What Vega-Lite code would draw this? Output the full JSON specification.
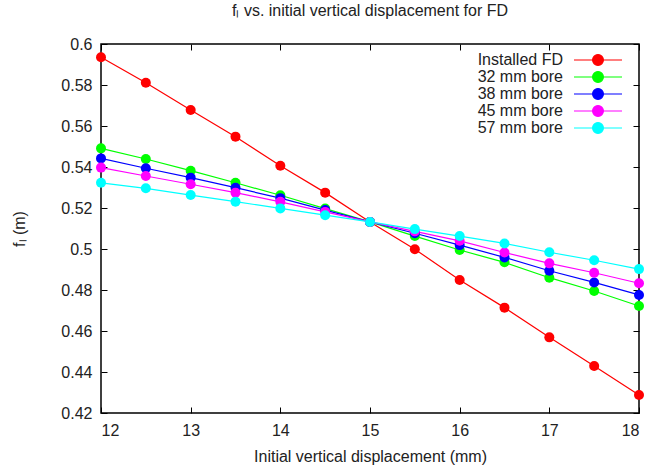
{
  "$schema": "https://vega.github.io/schema/vega-lite/v6.json",
  "width": 538,
  "height": 369,
  "autosize": "none",
  "padding": {"left": 101, "top": 44, "right": 11, "bottom": 53},
  "background": "white",
  "title": {"text": "fₗ vs. initial vertical displacement for FD", "font": "Liberation Sans", "fontSize": 16, "fontWeight": "normal", "color": "#222", "anchor": "middle", "offset": 17},
  "config": {
    "view": {"stroke": "#000", "strokeWidth": 1.5},
    "axis": {"grid": false, "domain": false, "tickColor": "#000", "tickWidth": 1, "labelFont": "Liberation Sans", "labelFontSize": 16, "labelColor": "#222", "titleFont": "Liberation Sans", "titleFontSize": 16, "titleFontWeight": "normal", "titleColor": "#222"}
  },
  "data": {"values": [
    {"x": 12, "y": 0.5935, "s": "Installed FD"},
    {"x": 12.5, "y": 0.5811, "s": "Installed FD"},
    {"x": 13, "y": 0.5678, "s": "Installed FD"},
    {"x": 13.5, "y": 0.5548, "s": "Installed FD"},
    {"x": 14, "y": 0.5406, "s": "Installed FD"},
    {"x": 14.5, "y": 0.5275, "s": "Installed FD"},
    {"x": 15, "y": 0.5132, "s": "Installed FD"},
    {"x": 15.5, "y": 0.4999, "s": "Installed FD"},
    {"x": 16, "y": 0.4849, "s": "Installed FD"},
    {"x": 16.5, "y": 0.4714, "s": "Installed FD"},
    {"x": 17, "y": 0.4569, "s": "Installed FD"},
    {"x": 17.5, "y": 0.4429, "s": "Installed FD"},
    {"x": 18, "y": 0.4288, "s": "Installed FD"},
    {"x": 12, "y": 0.5491, "s": "32 mm bore"},
    {"x": 12.5, "y": 0.5439, "s": "32 mm bore"},
    {"x": 13, "y": 0.5382, "s": "32 mm bore"},
    {"x": 13.5, "y": 0.5323, "s": "32 mm bore"},
    {"x": 14, "y": 0.5262, "s": "32 mm bore"},
    {"x": 14.5, "y": 0.5197, "s": "32 mm bore"},
    {"x": 15, "y": 0.5132, "s": "32 mm bore"},
    {"x": 15.5, "y": 0.5063, "s": "32 mm bore"},
    {"x": 16, "y": 0.4995, "s": "32 mm bore"},
    {"x": 16.5, "y": 0.4935, "s": "32 mm bore"},
    {"x": 17, "y": 0.4860, "s": "32 mm bore"},
    {"x": 17.5, "y": 0.4795, "s": "32 mm bore"},
    {"x": 18, "y": 0.4722, "s": "32 mm bore"},
    {"x": 12, "y": 0.5442, "s": "38 mm bore"},
    {"x": 12.5, "y": 0.5394, "s": "38 mm bore"},
    {"x": 13, "y": 0.5348, "s": "38 mm bore"},
    {"x": 13.5, "y": 0.5299, "s": "38 mm bore"},
    {"x": 14, "y": 0.5248, "s": "38 mm bore"},
    {"x": 14.5, "y": 0.5190, "s": "38 mm bore"},
    {"x": 15, "y": 0.5132, "s": "38 mm bore"},
    {"x": 15.5, "y": 0.5077, "s": "38 mm bore"},
    {"x": 16, "y": 0.5019, "s": "38 mm bore"},
    {"x": 16.5, "y": 0.4959, "s": "38 mm bore"},
    {"x": 17, "y": 0.4894, "s": "38 mm bore"},
    {"x": 17.5, "y": 0.4837, "s": "38 mm bore"},
    {"x": 18, "y": 0.4776, "s": "38 mm bore"},
    {"x": 12, "y": 0.5397, "s": "45 mm bore"},
    {"x": 12.5, "y": 0.5356, "s": "45 mm bore"},
    {"x": 13, "y": 0.5316, "s": "45 mm bore"},
    {"x": 13.5, "y": 0.5275, "s": "45 mm bore"},
    {"x": 14, "y": 0.5230, "s": "45 mm bore"},
    {"x": 14.5, "y": 0.5181, "s": "45 mm bore"},
    {"x": 15, "y": 0.5132, "s": "45 mm bore"},
    {"x": 15.5, "y": 0.5086, "s": "45 mm bore"},
    {"x": 16, "y": 0.5040, "s": "45 mm bore"},
    {"x": 16.5, "y": 0.4983, "s": "45 mm bore"},
    {"x": 17, "y": 0.4930, "s": "45 mm bore"},
    {"x": 17.5, "y": 0.4884, "s": "45 mm bore"},
    {"x": 18, "y": 0.4833, "s": "45 mm bore"},
    {"x": 12, "y": 0.5323, "s": "57 mm bore"},
    {"x": 12.5, "y": 0.5296, "s": "57 mm bore"},
    {"x": 13, "y": 0.5263, "s": "57 mm bore"},
    {"x": 13.5, "y": 0.5231, "s": "57 mm bore"},
    {"x": 14, "y": 0.5198, "s": "57 mm bore"},
    {"x": 14.5, "y": 0.5165, "s": "57 mm bore"},
    {"x": 15, "y": 0.5132, "s": "57 mm bore"},
    {"x": 15.5, "y": 0.5097, "s": "57 mm bore"},
    {"x": 16, "y": 0.5063, "s": "57 mm bore"},
    {"x": 16.5, "y": 0.5027, "s": "57 mm bore"},
    {"x": 17, "y": 0.4984, "s": "57 mm bore"},
    {"x": 17.5, "y": 0.4945, "s": "57 mm bore"},
    {"x": 18, "y": 0.4902, "s": "57 mm bore"}
  ]},
  "layer": [
    {
      "mark": {"type": "line", "strokeWidth": 1.2},
      "encoding": {
        "x": {"field": "x", "type": "quantitative", "scale": {"domain": [12, 18], "nice": false, "zero": false},
              "axis": {"orient": "bottom", "values": [12, 13, 14, 15, 16, 17, 18], "tickSize": -6, "labelPadding": 15, "title": "Initial vertical displacement (mm)", "titlePadding": 10}},
        "y": {"field": "y", "type": "quantitative", "scale": {"domain": [0.42, 0.6], "nice": false, "zero": false},
              "axis": {"orient": "left", "values": [0.42, 0.44, 0.46, 0.48, 0.5, 0.52, 0.54, 0.56, 0.58, 0.6], "format": ".2~f", "tickSize": -6, "labelPadding": 15, "title": "fₗ (m)", "titlePadding": 33}},
        "color": {"field": "s", "type": "nominal", "sort": null,
                  "scale": {"domain": ["Installed FD", "32 mm bore", "38 mm bore", "45 mm bore", "57 mm bore"], "range": ["#ff0000", "#00ff00", "#0000ff", "#ff00ff", "#00ffff"]},
                  "legend": {"title": null, "orient": "none", "legendX": 489, "legendY": 8, "padding": 0, "offset": 0,
                             "symbolType": "M-4,0H4M0.9,0A0.9,0.9 0 1,1 -0.9,0A0.9,0.9 0 1,1 0.9,0Z",
                             "symbolSize": 144, "labelAlign": "right", "labelOffset": -43, "rowPadding": 1,
                             "labelFont": "Liberation Sans", "labelFontSize": 16, "labelColor": "#222",
                             "encode": {"symbols": {"update": {"stroke": {"scale": "color", "field": "value"}, "fill": {"scale": "color", "field": "value"}, "strokeWidth": {"value": 1.2}, "opacity": {"value": 1}}}}}}
      }
    },
    {
      "mark": {"type": "point", "filled": true, "size": 100, "opacity": 1},
      "encoding": {
        "x": {"field": "x", "type": "quantitative", "axis": {"orient": "top", "values": [12, 13, 14, 15, 16, 17, 18], "tickSize": -6, "labels": false, "title": null}},
        "y": {"field": "y", "type": "quantitative", "axis": {"orient": "right", "values": [0.42, 0.44, 0.46, 0.48, 0.5, 0.52, 0.54, 0.56, 0.58, 0.6], "tickSize": -6, "labels": false, "title": null}},
        "color": {"field": "s", "type": "nominal", "sort": null}
      }
    }
  ],
  "resolve": {"axis": {"x": "independent", "y": "independent"}}
}
